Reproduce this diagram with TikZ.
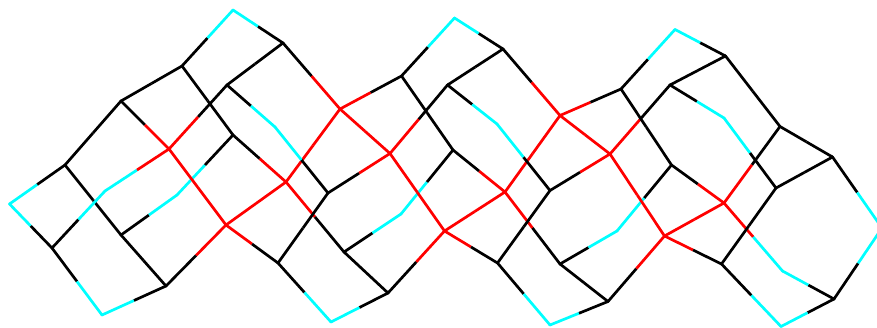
\documentclass[tikz,border=0pt]{standalone}
\usetikzlibrary{calc}
\definecolor{cy}{RGB}{0,255,255}
\definecolor{rd}{RGB}{255,0,0}
\definecolor{bk}{RGB}{0,0,0}
\newlength{\edgew}\setlength{\edgew}{2.7pt}
\tikzset{halfedge/.style={line width=\edgew,line cap=butt}}
\newcommand{\vtx}[4]{\coordinate (#1) at (#2,#3);\expandafter\gdef\csname vc#1\endcsname{#4}}
\newcommand{\lnk}[2]{%
  \draw[halfedge,draw=\csname vc#1\endcsname] (#1) -- ($(#1)!.5!(#2)$);
  \draw[halfedge,draw=\csname vc#2\endcsname] (#2) -- ($(#1)!.5!(#2)$);
  \fill[\csname vc#1\endcsname] (#1) circle[radius=.5\edgew];
  \fill[\csname vc#2\endcsname] (#2) circle[radius=.5\edgew];}
\begin{document}
\begin{tikzpicture}[x=1pt,y=-1pt]
\useasboundingbox (0,0) rectangle (877,328);
\clip (0,0) rectangle (877,328);
\vtx{a1}{9.5}{204}{cy}\vtx{a2}{65}{165}{bk}\vtx{a3}{121}{101}{bk}\vtx{a4}{182}{66}{bk}
\vtx{a5}{233}{10}{cy}\vtx{a6}{283}{43}{bk}\vtx{a7}{227}{85}{bk}\vtx{a8}{169}{149}{rd}
\vtx{a9}{105}{191}{cy}\vtx{a10}{52}{248}{bk}\vtx{a11}{102}{315}{cy}\vtx{a12}{166}{286}{bk}
\vtx{a13}{121}{235}{bk}\vtx{a14}{177}{195}{cy}\vtx{a15}{233}{135}{bk}\vtx{a16}{226}{225}{rd}
\vtx{a17}{278}{263}{bk}\vtx{a18}{286}{182}{rd}\vtx{a19}{275}{127}{cy}
\vtx{b1}{340}{109}{rd}\vtx{b2}{401.5}{76}{bk}\vtx{b3}{390}{153.5}{rd}\vtx{b4}{454.5}{18}{cy}
\vtx{b5}{503}{49}{bk}\vtx{b6}{447.5}{85}{bk}\vtx{b7}{497}{124}{cy}\vtx{b9}{550}{190.5}{bk}
\vtx{b10}{560}{115.5}{rd}\vtx{b11}{505}{192}{rd}\vtx{b12}{444.5}{231}{rd}\vtx{b13}{453}{150}{bk}
\vtx{b14}{401}{214}{cy}\vtx{b15}{344}{252}{bk}\vtx{b16}{388}{293}{bk}\vtx{b17}{331}{322}{cy}
\vtx{b18}{328}{193}{bk}\vtx{b19}{497.5}{263}{bk}\vtx{b20}{550}{325}{cy}\vtx{b21}{608}{301.5}{bk}
\vtx{b22}{560}{264}{bk}
\vtx{c1}{617}{231}{cy}\vtx{c2}{671.5}{165}{bk}\vtx{c3}{621}{89}{bk}\vtx{c4}{675}{29.5}{cy}
\vtx{c5}{725.5}{56}{bk}\vtx{c6}{670}{85}{bk}\vtx{c7}{610}{154}{rd}\vtx{c8}{664.5}{236}{rd}
\vtx{c9}{721.5}{264}{bk}\vtx{c10}{724}{203}{rd}\vtx{c12}{780}{126.5}{bk}\vtx{c13}{832.5}{157}{bk}
\vtx{c14}{776}{188}{bk}\vtx{c15}{724}{118}{cy}\vtx{c16}{782.5}{271}{cy}\vtx{c17}{834}{299}{bk}
\vtx{c18}{781}{326.5}{cy}\vtx{c19}{882}{228}{cy}
% lowest: edges that red or cyan edges pass over
\lnk{a2}{a13}\lnk{a14}{a15}\lnk{b14}{b13}\lnk{c1}{c2}
% red and cyan-ended edges
\lnk{a10}{a9}\lnk{a9}{a8}\lnk{a3}{a8}\lnk{a7}{a8}\lnk{a8}{a16}\lnk{a16}{a12}\lnk{a16}{a17}\lnk{a16}{a18}
\lnk{a18}{a15}\lnk{a18}{b15}\lnk{a18}{b1}\lnk{b1}{a6}\lnk{b1}{b2}\lnk{b1}{b3}\lnk{b3}{b18}
\lnk{b3}{b6}\lnk{b3}{b12}\lnk{b12}{b16}\lnk{b12}{b19}\lnk{b12}{b11}\lnk{b11}{b13}\lnk{b11}{b10}
\lnk{b11}{b22}\lnk{b10}{b5}\lnk{b10}{c3}\lnk{b10}{c7}\lnk{c7}{c6}\lnk{c7}{b9}\lnk{c7}{c8}
\lnk{c8}{b21}\lnk{c8}{c9}\lnk{c8}{c10}\lnk{c10}{c2}\lnk{c10}{c12}\lnk{c10}{c16}
% top: remaining edges
\lnk{a1}{a2}\lnk{a2}{a3}\lnk{a3}{a4}\lnk{a4}{a5}\lnk{a5}{a6}\lnk{a6}{a7}
\lnk{a1}{a10}\lnk{a10}{a11}\lnk{a11}{a12}\lnk{a13}{a12}
\lnk{a13}{a14}\lnk{a4}{a15}\lnk{a7}{a19}\lnk{a19}{b18}\lnk{b18}{a17}
\lnk{a17}{b17}\lnk{b17}{b16}\lnk{b15}{b16}\lnk{b15}{b14}\lnk{b2}{b13}
\lnk{b2}{b4}\lnk{b4}{b5}\lnk{b5}{b6}\lnk{b6}{b7}\lnk{b7}{b9}\lnk{b9}{b19}\lnk{b19}{b20}
\lnk{b20}{b21}\lnk{b22}{b21}\lnk{b22}{c1}\lnk{c2}{c3}\lnk{c3}{c4}\lnk{c4}{c5}
\lnk{c5}{c6}\lnk{c6}{c15}\lnk{c15}{c14}\lnk{c14}{c9}\lnk{c14}{c13}\lnk{c5}{c12}\lnk{c12}{c13}
\lnk{c13}{c19}\lnk{c19}{c17}\lnk{c17}{c16}\lnk{c17}{c18}\lnk{c18}{c9}
\end{tikzpicture}
\end{document}
